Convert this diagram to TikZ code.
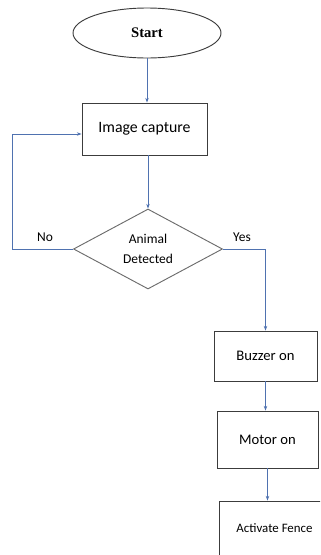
\documentclass[tikz,border=0pt]{standalone}
\usepackage{fontspec}
\setmainfont{Carlito}
\newfontfamily\startfont{Liberation Serif}
\usetikzlibrary{shapes.geometric,arrows.meta,positioning}
\definecolor{flowblue}{RGB}{79,114,176}
\definecolor{edgegray}{RGB}{60,60,60}
\begin{document}
\begin{tikzpicture}[
  blk/.style={draw=edgegray,line width=0.8pt,rectangle,inner sep=0pt,align=center},
  flow/.style={draw=flowblue,line width=0.7pt,-{Stealth[length=4pt,width=3pt]}}]
\clip(0,0)rectangle(9.6,-16.65);
\useasboundingbox(0,0)rectangle(9.6,-16.65);
%nodes
\node[blk,ellipse,minimum width=4.44cm,minimum height=1.5cm,font=\startfont\fontsize{12.5}{14}\selectfont\bfseries](start)at(4.41,-0.99){Start};
\node[blk,minimum width=3.75cm,minimum height=1.56cm,font=\fontsize{13.5}{15}\selectfont](img)at(4.335,-3.87){Image capture};
\node[blk,diamond,draw=gray!85!black,minimum width=4.47cm,minimum height=2.4cm,font=\fontsize{11.5}{17}\selectfont](dec)at(4.44,-7.47){Animal\\Detected};
\node[blk,minimum width=3.09cm,minimum height=1.5cm,font=\fontsize{12.5}{14}\selectfont](buz)at(7.965,-10.68){Buzzer on};
\node[blk,minimum width=3.03cm,minimum height=1.71cm,font=\fontsize{12.5}{14}\selectfont](mot)at(8.025,-13.185){Motor on};
\node[blk,minimum width=3.33cm,minimum height=1.62cm,font=\fontsize{11}{12}\selectfont](fen)at(8.235,-15.84){Activate Fence};
\coordinate(nobend)at(0.36,-7.47);
%labels
\node[font=\fontsize{11.5}{13}\selectfont](no)at(1.35,-7.11){No};
\node[font=\fontsize{11.5}{13}\selectfont](yes)at(7.26,-7.11){Yes};
%arrows
\draw[flow](start.south)--(start.south|-img.north);
\draw[flow](dec.north|-img.south)--(dec.north);
\draw[flow](dec.east)-|(buz.north);
\draw[flow](dec.west)--(nobend)|-([yshift=-0.15cm]img.west);
\draw[flow](buz.south)--(buz.south|-mot.north);
\draw[flow](mot.south)--(mot.south|-fen.north);
\end{tikzpicture}
\end{document}
